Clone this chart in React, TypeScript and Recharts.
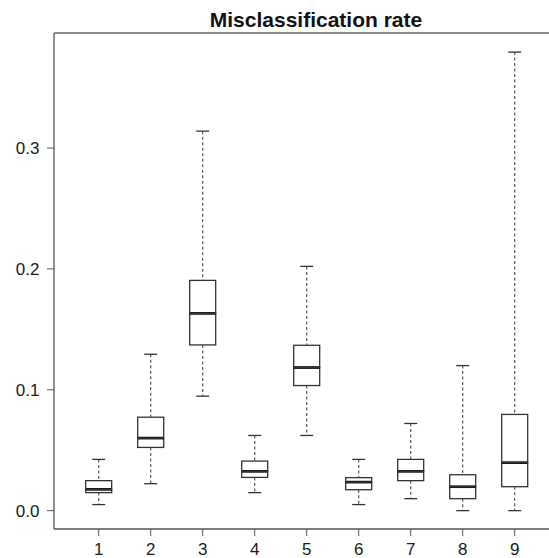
import { ComposedChart, Bar, XAxis, YAxis, ReferenceLine } from "recharts"

// box plot stats, one entry per method 1..9
const categories = ["1", "2", "3", "4", "5", "6", "7", "8", "9"]
const lowerWhisker = [0.005, 0.0223, 0.0947, 0.0149, 0.0622, 0.005, 0.0099, 0.0, 0.0]
const q1 = [0.0149, 0.0523, 0.1371, 0.0275, 0.1035, 0.0173, 0.0248, 0.0099, 0.0198]
const median = [0.0176, 0.06, 0.1632, 0.0325, 0.1184, 0.0236, 0.0325, 0.0198, 0.0397]
const q3 = [0.0248, 0.0773, 0.1905, 0.041, 0.1368, 0.0273, 0.0424, 0.0297, 0.0796]
const upperWhisker = [0.0424, 0.1294, 0.314, 0.0622, 0.2021, 0.0424, 0.0721, 0.12, 0.3794]
const yTicks = [0, 0.1, 0.2, 0.3]

const Y_MIN = -0.0152
const Y_MAX = 0.3952

// stacked segments: invisible base, lower whisker, lower half box, upper half box, upper whisker
const data = categories.map((name, i) => ({
  name,
  base: lowerWhisker[i],
  lw: q1[i] - lowerWhisker[i],
  lb: median[i] - q1[i],
  ub: q3[i] - median[i],
  uw: upperWhisker[i] - q3[i],
}))

const LINE = "#333"
const CAP = 6.5

const Empty = () => null

const LowerWhisker = (p: any) => {
  const cx = p.x + p.width / 2
  const bottom = p.y + p.height
  return (
    <g>
      <line x1={cx} x2={cx} y1={p.y} y2={bottom} stroke="#555" strokeWidth={1.2} strokeDasharray="3 2.5" />
      <line x1={cx - CAP} x2={cx + CAP} y1={bottom} y2={bottom} stroke={LINE} strokeWidth={1.3} />
    </g>
  )
}

const UpperWhisker = (p: any) => {
  const cx = p.x + p.width / 2
  return (
    <g>
      <line x1={cx} x2={cx} y1={p.y} y2={p.y + p.height} stroke="#555" strokeWidth={1.2} strokeDasharray="3 2.5" />
      <line x1={cx - CAP} x2={cx + CAP} y1={p.y} y2={p.y} stroke={LINE} strokeWidth={1.3} />
    </g>
  )
}

const LowerBox = (p: any) => (
  <g>
    <rect x={p.x} y={p.y} width={p.width} height={p.height} fill="none" stroke={LINE} strokeWidth={1.3} />
    <line x1={p.x} x2={p.x + p.width} y1={p.y} y2={p.y} stroke="#111" strokeWidth={2.7} />
  </g>
)

const UpperBox = (p: any) => (
  <rect x={p.x} y={p.y} width={p.width} height={p.height} fill="none" stroke={LINE} strokeWidth={1.3} />
)

export default function App() {
  return (
    <div
      style={{
        position: "absolute",
        left: 0,
        top: 0,
        width: 549,
        height: 558,
        overflow: "hidden",
        background: "#fff",
        fontFamily: "'Liberation Sans', Arial, sans-serif",
      }}
    >
      <div
        style={{
          position: "absolute",
          left: 0,
          top: 9,
          width: 632,
          textAlign: "center",
          fontSize: 21,
          lineHeight: "21px",
          fontWeight: "bold",
          color: "#111",
        }}
      >
        Misclassification rate
      </div>
      <ComposedChart
        width={565}
        height={558}
        data={data}
        margin={{ top: 33, right: 5.6, bottom: 0, left: 0 }}
        barSize={26}
      >
        <XAxis
          dataKey="name"
          interval={0}
          height={29}
          padding={{ left: 18.7, right: 18.7 }}
          tickSize={7}
          tickMargin={6.5}
          axisLine={{ stroke: "#555", strokeWidth: 1.3 }}
          tickLine={{ stroke: "#555" }}
          tick={{ fill: "#1a1a1a", fontSize: 17 }}
        />
        <YAxis
          type="number"
          domain={[Y_MIN, Y_MAX]}
          ticks={yTicks}
          width={54}
          tickSize={7}
          tickMargin={7.5}
          tickFormatter={(v: number) => v.toFixed(1)}
          axisLine={{ stroke: "#555", strokeWidth: 1.3 }}
          tickLine={{ stroke: "#555" }}
          tick={{ fill: "#1a1a1a", fontSize: 17 }}
        />
        <ReferenceLine y={Y_MAX} stroke="#666" strokeWidth={1.3} />
        <Bar dataKey="base" stackId="box" shape={Empty} isAnimationActive={false} />
        <Bar dataKey="lw" stackId="box" shape={LowerWhisker} isAnimationActive={false} />
        <Bar dataKey="lb" stackId="box" shape={LowerBox} isAnimationActive={false} />
        <Bar dataKey="ub" stackId="box" shape={UpperBox} isAnimationActive={false} />
        <Bar dataKey="uw" stackId="box" shape={UpperWhisker} isAnimationActive={false} />
      </ComposedChart>
    </div>
  )
}
